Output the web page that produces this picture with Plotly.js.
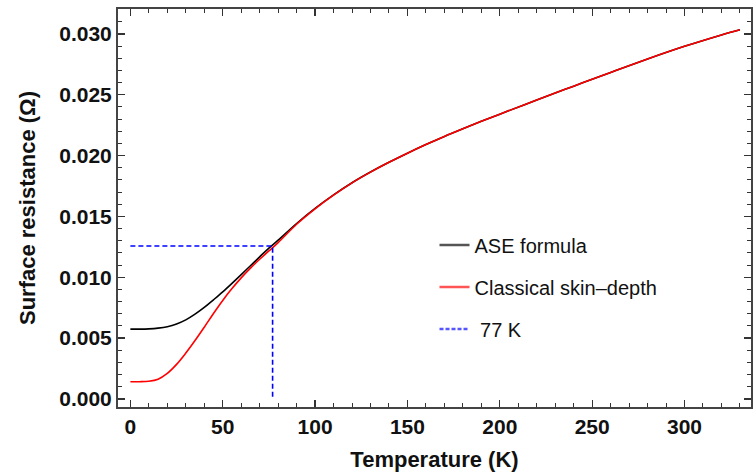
<!DOCTYPE html>
<html>
<head>
<meta charset="utf-8">
<script src="https://cdn.plot.ly/plotly-3.0.1.min.js"></script>
<style>html,body{margin:0;padding:0;background:#fff;}#chart{width:755px;height:472px;}</style>
</head>
<body>
<div id="chart"></div>
<script>
// Temperature (K)
var temperature = [0,5,10,15,20,25,30,35,40,45,50,55,60,65,70,75,80,90,100,110,120,130,140,150,160,170,180,190,200,220,240,260,280,300,320,330];
// ASE formula surface resistance (Ohm)
var aseFormula = [0.00574,0.00574,0.00576,0.00582,0.00594,0.00616,0.00650,0.00697,0.00752,0.00815,0.00880,0.00950,0.01022,0.01095,0.01168,0.01240,0.01305,0.01442,0.01566,0.01677,0.01777,0.01865,0.01945,0.02020,0.02091,0.02158,0.02221,0.02282,0.02341,0.02457,0.02571,0.02684,0.02794,0.02898,0.02992,0.03035];
// Classical skin-depth surface resistance (Ohm)
var classicalSkin = [0.00142,0.00142,0.00146,0.00163,0.00210,0.00284,0.00377,0.00480,0.00590,0.00703,0.00810,0.00907,0.00995,0.01075,0.01148,0.01217,0.01285,0.01436,0.01563,0.01675,0.01776,0.01864,0.01945,0.02020,0.02091,0.02158,0.02221,0.02282,0.02341,0.02457,0.02571,0.02684,0.02794,0.02898,0.02992,0.03035];
// 77 K marker
var markerT = [0, 77, 77];
var markerR = [0.01257, 0.01257, 0.0];

var legendNames = ['ASE formula', 'Classical skin\u2013depth', ' 77 K'];

var font = 'Liberation Sans, Arial, Helvetica, sans-serif';

var traces = [
  {x: temperature, y: aseFormula, mode: 'lines', line: {color: '#000000', width: 1.6, shape: 'spline'}, showlegend: false, hoverinfo: 'skip'},
  {x: temperature, y: classicalSkin, mode: 'lines', line: {color: '#ff0000', width: 1.6, shape: 'spline'}, showlegend: false, hoverinfo: 'skip'},
  {x: markerT, y: markerR, mode: 'lines', line: {color: '#0000ff', width: 1.6, dash: '5px,3px'}, showlegend: false, hoverinfo: 'skip'},
  {x: [null], y: [null], mode: 'lines', name: legendNames[0], legendgroup: 'a', line: {color: '#555555', width: 2.5}},
  {x: [null], y: [null], mode: 'lines', name: legendNames[1], legendgroup: 'b', line: {color: '#ff5555', width: 2.5}},
  {x: [null], y: [null], mode: 'lines', name: legendNames[2], legendgroup: 'c', line: {color: '#5555ff', width: 2.5, dash: '4px,2px'}}
];

var axisCommon = {
  showgrid: false, zeroline: false, showline: true, linecolor: '#444', linewidth: 2,
  mirror: 'ticks', ticks: 'inside', ticklen: 7, tickwidth: 1.3, tickcolor: '#333',
  tickfont: {family: font, size: 21, color: '#111', weight: 'bold'}
};

var layout = {
  width: 755, height: 472,
  margin: {l: 118, r: 4, t: 9, b: 65},
  paper_bgcolor: '#fff', plot_bgcolor: '#fff',
  xaxis: Object.assign({}, axisCommon, {
    range: [-6.7, 336], tick0: 0, dtick: 50,
    minor: {dtick: 10, ticks: 'inside', ticklen: 4, tickwidth: 1, tickcolor: '#333', showgrid: false},
    title: {text: 'Temperature (K)', font: {family: font, size: 22, color: '#111', weight: 'bold'}, standoff: 14}
  }),
  yaxis: Object.assign({}, axisCommon, {
    range: [-0.00066, 0.03205], tick0: 0, dtick: 0.005, tickformat: '.3f',
    minor: {dtick: 0.001, ticks: 'inside', ticklen: 4, tickwidth: 1, tickcolor: '#333', showgrid: false},
    title: {text: 'Surface resistance (\u03a9)', font: {family: font, size: 22, color: '#111', weight: 'bold'}, standoff: 18}
  }),
  showlegend: true,
  legend: {
    x: 0.5, y: 0.456, xanchor: 'left', yanchor: 'top',
    font: {family: font, size: 20, color: '#111'},
    bgcolor: 'rgba(0,0,0,0)', borderwidth: 0,
    traceorder: 'grouped', tracegroupgap: 13, itemwidth: 30
  }
};

Plotly.newPlot('chart', traces, layout, {displayModeBar: false, staticPlot: true});
</script>
</body>
</html>
